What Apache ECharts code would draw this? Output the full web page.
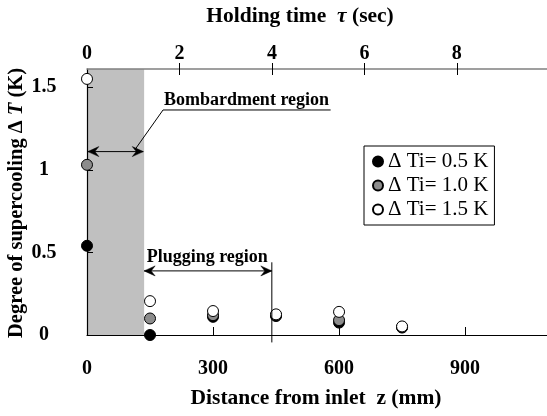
<!DOCTYPE html>
<html><head><meta charset="utf-8">
<script src="https://cdn.jsdelivr.net/npm/echarts@6/dist/echarts.min.js"></script>
<style>html,body{margin:0;padding:0;background:#fff}#c{width:547px;height:416px}</style>
</head><body><div id="c"></div>
<script>
// ---- data ----
const zValues = [0, 150, 300, 450, 600, 750];               // distance from inlet (mm)
const dT05 = [0.54, 0.00, 0.11, 0.115, 0.075, 0.045];       // ΔTi = 0.5 K
const dT10 = [1.03, 0.10, 0.12, 0.12, 0.09, 0.048];         // ΔTi = 1.0 K
const dT15 = [1.55, 0.205, 0.145, 0.125, 0.14, 0.052];      // ΔTi = 1.5 K
const seriesNames = ['\u0394 Ti= 0.5 K', '\u0394 Ti= 1.0 K', '\u0394 Ti= 1.5 K'];
const zTickLabels = [0, 300, 600, 900];
const zTicks = [300, 600, 900];
const tauTickLabels = [0, 2, 4, 6, 8];
const tauTicks = [2, 4, 6, 8];
const yTickLabels = [0, 0.5, 1, 1.5];
const yTicks = [0.5, 1, 1.5];
const zMax = 1095, tauMax = 9.95, yMax = 1.61;
const bombEnd = 136;   // end of bombardment region (mm)
const plugEnd = 440;   // end of plugging region (mm)

const FONT = '"Liberation Serif","Times New Roman",serif';
const chart = echarts.init(document.getElementById('c'), null, {renderer: 'canvas'});

function mk(name, data, color) {
  return {
    name: name, type: 'scatter', symbol: 'circle', symbolSize: 11, z: 10, clip: false,
    data: zValues.map((z, i) => [z, data[i]]),
    itemStyle: {color: color, borderColor: '#000', borderWidth: 1, opacity: 1}
  };
}
const tickFont = {fontFamily: FONT, fontWeight: 'bold', fontSize: 20, color: '#000'};

const option = {
  animation: false,
  backgroundColor: '#fff',
  grid: {left: 87, right: 0, top: 69, bottom: 81},
  legend: {
    orient: 'vertical', left: 364, top: 146, padding: [5, 6, 5, 8], itemGap: 3,
    borderColor: '#000', borderWidth: 1, backgroundColor: '#fff',
    itemWidth: 10, itemHeight: 10,
    textStyle: {fontFamily: FONT, fontSize: 21, color: '#000', lineHeight: 21},
    data: seriesNames
  },
  xAxis: [
    {type: 'value', min: 0, max: zMax, position: 'bottom', z: 5,
     axisLine: {lineStyle: {color: '#000', width: 1.2}},
     axisTick: {inside: true, length: 8, customValues: zTicks, lineStyle: {color: '#000'}},
     axisLabel: Object.assign({customValues: zTickLabels, margin: 24}, tickFont),
     splitLine: {show: false}},
    {type: 'value', min: 0, max: tauMax, position: 'top', z: 5,
     axisLine: {lineStyle: {color: '#808080', width: 1.5}},
     axisTick: {inside: false, length: 6, customValues: tauTicks, lineStyle: {color: '#000'}},
     axisLabel: Object.assign({customValues: tauTickLabels, margin: 5}, tickFont),
     splitLine: {show: false}},
    {type: 'value', min: 0, max: tauMax, position: 'top', z: 5,
     axisLine: {show: false},
     axisTick: {inside: true, length: 6, customValues: tauTicks, lineStyle: {color: '#000'}},
     axisLabel: {show: false}, splitLine: {show: false}}
  ],
  yAxis: {type: 'value', min: 0, max: yMax, z: 5,
    axisLine: {show: true, lineStyle: {color: '#000', width: 1.2}},
    axisTick: {show: true, inside: true, length: 6, customValues: yTicks, lineStyle: {color: '#000'}},
    axisLabel: Object.assign({customValues: yTickLabels, margin: 43, align: 'center'}, tickFont),
    splitLine: {show: false}},
  series: [
    {type: 'scatter', data: [], z: 1, silent: true,
     markArea: {silent: true, itemStyle: {color: '#c0c0c0', opacity: 1},
       data: [[{xAxis: 0, yAxis: 0}, {xAxis: bombEnd, yAxis: yMax}]]}},
    mk(seriesNames[0], dT05, '#000'),
    mk(seriesNames[1], dT10, '#8c8c8c'),
    mk(seriesNames[2], dT15, '#fff')
  ]
};
chart.setOption(option);

// ---- annotations ----
const P = (x, y) => chart.convertToPixel({xAxisIndex: 0, yAxisIndex: 0}, [x, y]);
const g = [];
function line(a, b) {
  g.push({type: 'line', z: 20, shape: {x1: a[0], y1: a[1], x2: b[0], y2: b[1]}, style: {stroke: '#000', lineWidth: 1}});
}
function head(tip, dir) {
  g.push({type: 'polygon', z: 20, shape: {points: [tip, [tip[0] - dir * 11, tip[1] - 5], [tip[0] - dir * 7, tip[1]], [tip[0] - dir * 11, tip[1] + 5]]},
    style: {fill: '#000', stroke: '#000', lineWidth: 0.5}});
}
function dArrow(x1, x2, y) {
  const a = P(x1, y), b = P(x2, y);
  line(a, b); head(a, -1); head(b, 1);
}
// bombardment region
dArrow(2, bombEnd - 2, 1.11);
const u1 = P(181, 1.362), u2 = P(580, 1.362);
line(u1, u2);
line(u1, P(115, 1.125));
const bt = P(183, 1.362);
g.push({type: 'text', z: 20, x: bt[0], y: bt[1] - 1, style: {text: 'Bombardment region', fill: '#000',
  font: 'bold 18px ' + FONT, align: 'left', verticalAlign: 'bottom'}});
// plugging region
dArrow(bombEnd, plugEnd, 0.388);
line(P(plugEnd, 0.44), P(plugEnd, -0.045));
const pt = P(bombEnd + 6, 0.388);
g.push({type: 'text', z: 20, x: pt[0], y: pt[1] - 5, style: {text: 'Plugging region', fill: '#000',
  font: 'bold 18px ' + FONT, align: 'left', verticalAlign: 'bottom'}});
// axis titles
const rich = {b: {fontFamily: FONT, fontWeight: 'bold', fontSize: 21.5, fill: '#000'},
              i: {fontFamily: FONT, fontWeight: 'bold', fontStyle: 'italic', fontSize: 21.5, fill: '#000'}};
const richY = {b: {fontFamily: FONT, fontWeight: 'bold', fontSize: 20.5, fill: '#000'},
               i: {fontFamily: FONT, fontWeight: 'bold', fontStyle: 'italic', fontSize: 20.5, fill: '#000'}};
g.push({type: 'text', z: 20, x: 300, y: 16, style: {text: '{b|Holding time  }{i|\u03c4}{b| (sec)}', rich: rich, align: 'center', verticalAlign: 'middle'}});
g.push({type: 'text', z: 20, x: 316, y: 398, style: {text: '{b|Distance from inlet  z (mm)}', rich: rich, align: 'center', verticalAlign: 'middle'}});
g.push({type: 'text', z: 20, x: 17, y: 203, rotation: Math.PI / 2, style: {text: '{b|Degree of supercooling \u0394 }{i|T}{b| (K)}', rich: richY, align: 'center', verticalAlign: 'middle'}});
chart.setOption({graphic: g});
</script></body></html>
